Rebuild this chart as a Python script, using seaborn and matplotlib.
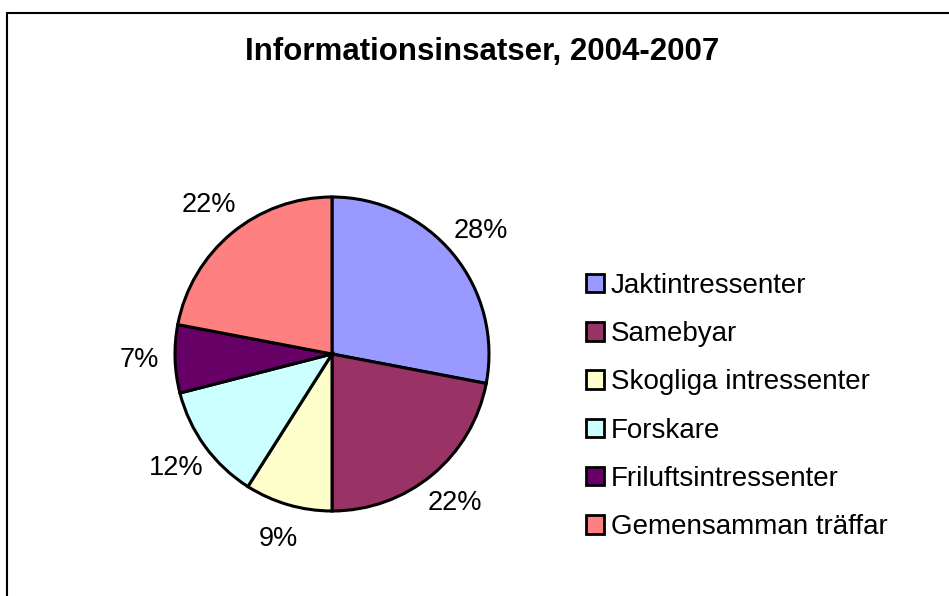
import matplotlib
matplotlib.use('Agg')
import matplotlib.pyplot as plt
import seaborn as sns
from matplotlib.lines import Line2D
from matplotlib.patches import Patch

# data
categories = ['Jaktintressenter', 'Samebyar', 'Skogliga intressenter', 'Forskare',
              'Friluftsintressenter', 'Gemensamman träffar']
shares = [28, 22, 9, 12, 7, 22]
colors = ['#9999FF', '#993366', '#FFFFCC', '#CCFFFF', '#660066', '#FF8080']

sns.set_style('white')
plt.rcParams['font.family'] = ['Liberation Sans', 'DejaVu Sans']
plt.rcParams['text.color'] = 'black'

W, H = 949, 596
fig = plt.figure(figsize=(W / 100, H / 100), dpi=100)

# pie centre (332, 354) px, radius 157 px
cx, cy, r = 332, 354, 157
ax = fig.add_axes([(cx - r) / W, (H - cy - r) / H, 2 * r / W, 2 * r / H])
wedges, texts = ax.pie(shares, colors=colors, startangle=90, counterclock=False,
                       labels=[f'{v}%' for v in shares], labeldistance=1.23,
                       wedgeprops=dict(edgecolor='black', linewidth=2.2),
                       textprops=dict(fontsize=19.5, color='black'))
for t in texts:
    t.set_horizontalalignment('center')
    t.set_verticalalignment('center')
ax.set_xlim(-1, 1)
ax.set_ylim(-1, 1)
ax.set_aspect('equal')
ax.axis('off')

fig.text(482 / W, 1 - 52 / H, 'Informationsinsatser, 2004-2007', ha='center', va='center',
         fontsize=22.5, fontweight='bold', color='black')

handles = [Patch(facecolor=c, edgecolor='black', linewidth=2) for c in colors]
fig.legend(handles, categories, loc='upper left', bbox_to_anchor=(572 / W, 1 - 259 / H),
           frameon=False, fontsize=20, handlelength=0.65, handleheight=0.65,
           handletextpad=0.25, labelspacing=0.8, borderpad=0)

# chart frame: top and left edges
fig.add_artist(Line2D([7 / W, 1], [1 - 13 / H, 1 - 13 / H], color='black', lw=1.5,
                      transform=fig.transFigure))
fig.add_artist(Line2D([7 / W, 7 / W], [0, 1 - 13 / H], color='black', lw=1.5,
                      transform=fig.transFigure))

fig.savefig('out.png', dpi=100, facecolor='white')
